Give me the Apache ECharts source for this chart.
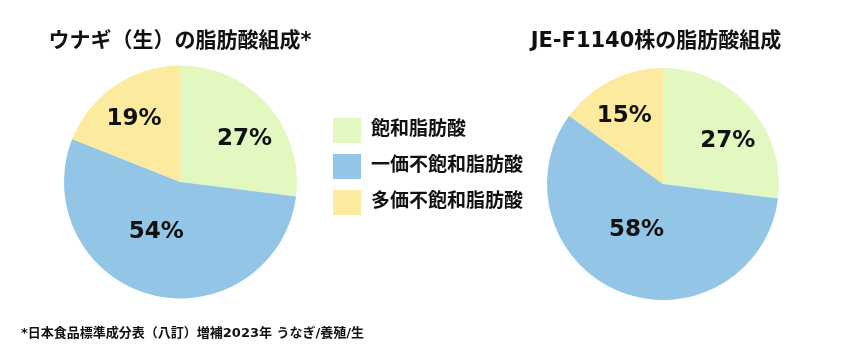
<!DOCTYPE html>
<html><head><meta charset="utf-8">
<script src="https://cdn.jsdelivr.net/npm/echarts@6/dist/echarts.min.js"></script>
<style>html,body{margin:0;padding:0;background:#fff}#c{width:848px;height:356px}</style>
</head><body><div id="c"></div>
<script>
const categories = ['飽和脂肪酸', '一価不飽和脂肪酸', '多価不飽和脂肪酸'];
const eelValues = [27, 54, 19];
const strainValues = [27, 58, 15];
const titles = ['ウナギ（生）の脂肪酸組成*', 'JE-F1140株の脂肪酸組成'];
const footnote = '*日本食品標準成分表（八訂）増補2023年 うなぎ/養殖/生';

const colors = ['#e3f8c1', '#93c6e6', '#fcea9f'];
const FONT = '"DejaVu Sans", "Noto Sans CJK JP", sans-serif';
const leftOffsets = [[18, -2], [-9, -9], [-12, -12]];
const rightOffsets = [[19, -3], [-4, -11], [-11, -14]];

function items(values, offsets) {
  return categories.map((n, i) => ({
    name: n, value: values[i],
    itemStyle: { color: colors[i] },
    label: { offset: offsets[i] }
  }));
}

const pieCommon = {
  type: 'pie', radius: 116.5, startAngle: 90, clockwise: true,
  silent: true, avoidLabelOverlap: false,
  label: { show: true, position: 'inside', formatter: '{c}%', fontFamily: FONT, fontWeight: 'bold', fontSize: 23, color: '#111' },
  labelLine: { show: false },
  itemStyle: { borderWidth: 0 }
};

const chart = echarts.init(document.getElementById('c'), null, { renderer: 'canvas' });
chart.setOption({
  animation: false,
  color: colors,
  title: [
    { text: titles[0], left: 175, top: 26, textAlign: 'center', textStyle: { fontFamily: FONT, fontWeight: 'bold', fontSize: 21, color: '#111' } },
    { text: titles[1], left: 651, top: 26, textAlign: 'center', textStyle: { fontFamily: FONT, fontWeight: 'bold', fontSize: 21, color: '#111' } },
    { text: footnote, left: 16, top: 322, textStyle: { fontFamily: FONT, fontWeight: 'bold', fontSize: 13, color: '#111' } }
  ],
  legend: {
    orient: 'vertical', left: 333, top: 118, padding: 0, icon: 'rect',
    itemWidth: 28, itemHeight: 25, itemGap: 11, selectedMode: false,
    data: categories,
    textStyle: { fontFamily: FONT, fontWeight: 'bold', fontSize: 19, color: '#111', padding: [0, 0, 0, 5] }
  },
  series: [
    Object.assign({}, pieCommon, { center: [180.5, 182], data: items(eelValues, leftOffsets) }),
    Object.assign({}, pieCommon, { center: [663, 184], radius: 116, data: items(strainValues, rightOffsets) })
  ]
});
</script></body></html>
